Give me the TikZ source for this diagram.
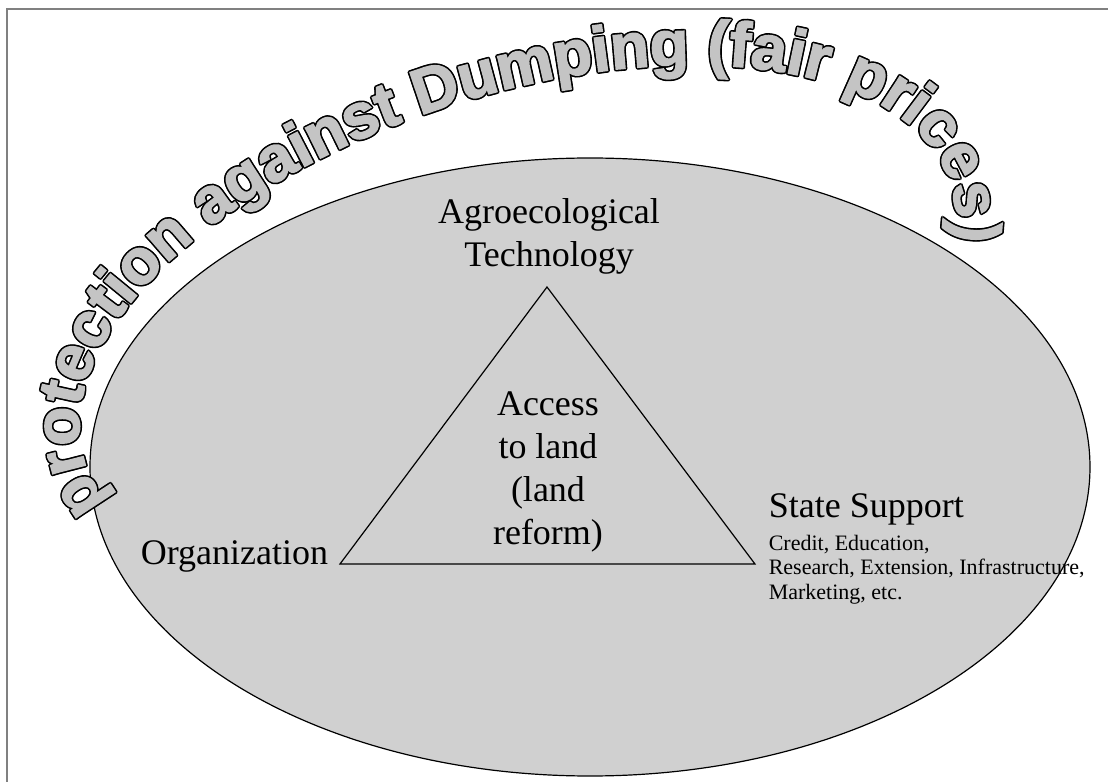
\documentclass[tikz,border=0pt]{standalone}
\usepackage{fontspec}
\setmainfont{Liberation Serif}
\newfontfamily\wafont[BoldFeatures={FakeBold=2.5}]{Liberation Sans}
\usetikzlibrary{shapes.geometric,decorations.text}
\definecolor{ellgray}{RGB}{208,208,208}
\definecolor{wagray}{RGB}{196,196,196}
\definecolor{framegray}{RGB}{128,128,128}
\begin{document}
\begin{tikzpicture}[x=0.25pt,y=-0.25pt,
  lbl/.style={font=\fontsize{9}{10.75}\selectfont, inner sep=0pt},
  smalllbl/.style={font=\fontsize{5.5}{6.25}\selectfont, inner sep=0pt, align=left},
  frameline/.style={draw=framegray, line width=0.5pt},
  edge/.style={draw=black, line width=0.3pt}]
\useasboundingbox (0,0) rectangle (1108,782);
% frame
\coordinate (fbl) at (7,782);
\coordinate (ftl) at (7,9);
\coordinate (ftr) at (1108,9);
\draw[frameline] (fbl) -- (ftl) -- (ftr);
% oval
\node[ellipse, draw=black, line width=0.3pt, fill=ellgray, minimum width=250pt, minimum height=154.5pt, inner sep=0pt] (oval) at (590,467) {};
% triangle
\coordinate (apex) at (547,287);
\coordinate (bl) at (340,564);
\coordinate (br) at (755,564);
\draw[edge] (bl) -- (apex) -- (br) -- cycle;
% labels (base anchor = baseline of the last line)
\node[lbl, anchor=base, align=center] (agro) at (549,267) {Agroecological\\Technology};
\node[lbl, anchor=base, align=center] (access) at (548,545) {Access\\to land\\(land\\reform)};
\node[lbl, anchor=base west] (org) at (140,565) {Organization};
\node[lbl, anchor=base west] (state) at (768,518) {State Support};
\node[smalllbl, anchor=base west] (statedet) at (768,600) {Credit, Education,\\Research, Extension, Infrastructure,\\Marketing, etc.};
% word art along arc
\foreach \dx/\dy in {1.6/0,-1.6/0,0/1.6,0/-1.6,1.13/1.13,1.13/-1.13,-1.13/1.13,-1.13/-1.13}{
  \path[shift={(\dx,\dy)}, decorate, decoration={text along path,
    text={|\wafont\bfseries\fontsize{15.875}{15.875}\selectfont\color{black}|protection against Dumping (fair prices)}}]
    plot[domain=0:214, samples=90, variable=\s]
    ({517.5+438.5*cos(200.6-\s)}, {322.5-103.4*cos(200.6-\s)-236*sin(200.6-\s)});
}
\path[decorate, decoration={text along path,
    text={|\wafont\bfseries\fontsize{15.875}{15.875}\selectfont\color{wagray}|protection against Dumping (fair prices)}}]
    plot[domain=0:214, samples=90, variable=\s]
    ({517.5+438.5*cos(200.6-\s)}, {322.5-103.4*cos(200.6-\s)-236*sin(200.6-\s)});
\end{tikzpicture}
\end{document}
